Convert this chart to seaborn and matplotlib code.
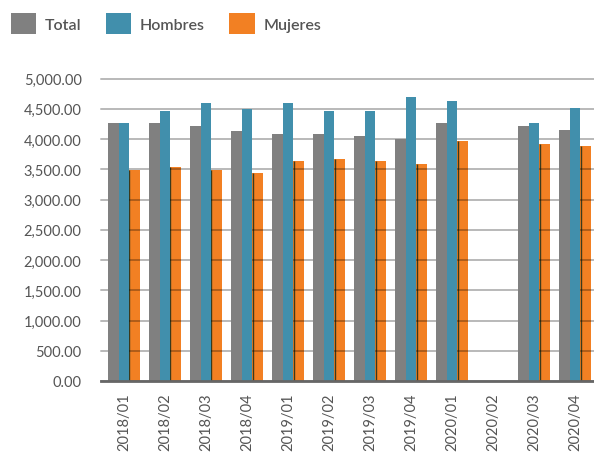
import numpy as np
import pandas as pd
import matplotlib
matplotlib.use("Agg")
import matplotlib.pyplot as plt
import seaborn as sns
from matplotlib.patches import Patch
from matplotlib.ticker import FuncFormatter, MultipleLocator

periods = ["2018/01", "2018/02", "2018/03", "2018/04", "2019/01", "2019/02",
           "2019/03", "2019/04", "2020/01", "2020/02", "2020/03", "2020/04"]
total = [4270, 4270, 4220, 4140, 4085, 4085, 4050, 4000, 4270, np.nan, 4220, 4150]
hombres = [4270, 4455, 4590, 4490, 4590, 4455, 4455, 4690, 4620, np.nan, 4270, 4520]
mujeres = [3490, 3535, 3485, 3435, 3635, 3665, 3635, 3585, 3970, np.nan, 3920, 3885]
series = ["Total", "Hombres", "Mujeres"]
colors = ["#808080", "#418fac", "#f28023"]

sns.set_style("white")
plt.rcParams["font.family"] = ["Lato", "DejaVu Sans"]
text_color = "#555555"

df = pd.DataFrame({
    "periodo": periods * 3,
    "serie": ["Total"] * 12 + ["Hombres"] * 12 + ["Mujeres"] * 12,
    "valor": total + hombres + mujeres,
})

fig = plt.figure(figsize=(5.94, 4.56), dpi=100)
ax = fig.add_axes([101 / 594, (456 - 382) / 456, (594 - 101) / 594, (382 - 79.5) / 456])

sns.barplot(data=df, x="periodo", y="valor", hue="serie", order=periods,
            hue_order=series, palette=colors, width=0.78, gap=0,
            errorbar=None, ax=ax, legend=False, saturation=1, linewidth=0)

# layer ordering: gridlines over orange bars, under gray and blue bars
for cont, z in zip(ax.containers, [3, 3, 1]):
    for p in cont.patches:
        p.set_zorder(z)
for p in ax.containers[2].patches:
    h = p.get_height()
    if np.isfinite(h) and h > 0:
        ax.plot([p.get_x() + 0.004] * 2, [0, h], color="#3b3a1c", lw=1.0, zorder=1.5,
                solid_capstyle="butt")

ax.set_ylim(0, 5000)
ax.set_xlim(-0.56, 11.46)
ax.yaxis.set_major_locator(MultipleLocator(500))
ax.yaxis.set_major_formatter(FuncFormatter(lambda v, p: f"{v:,.2f}"))
ax.grid(axis="y", color="black", alpha=0.28, lw=1.4, zorder=2)
ax.set_axisbelow(False)
for line in ax.get_ygridlines():
    line.set_zorder(2)
    line.set_clip_on(False)

for s in ["top", "right", "left"]:
    ax.spines[s].set_visible(False)
ax.spines["bottom"].set_color("#666666")
ax.spines["bottom"].set_linewidth(2)
ax.spines["bottom"].set_zorder(5)

ax.tick_params(axis="y", length=0, pad=14, labelsize=10.5, labelcolor=text_color)
ax.tick_params(axis="x", length=0, pad=8, labelsize=10.5, labelcolor=text_color,
               rotation=90)
ax.set_xlabel("")
ax.set_ylabel("")

handles = [Patch(facecolor=c, edgecolor="none", label=s) for c, s in zip(colors, series)]
leg = fig.legend(handles=handles, loc="center left", bbox_to_anchor=(0.01, 1 - 24.5 / 456),
                 ncol=3, frameon=False, handlelength=1.6, handleheight=1.6,
                 handletextpad=0.55, columnspacing=1.5, borderaxespad=0,
                 prop={"size": 11.5, "weight": "semibold"}, labelcolor=text_color,
                 borderpad=0.3)

fig.savefig("out.png", dpi=100)
